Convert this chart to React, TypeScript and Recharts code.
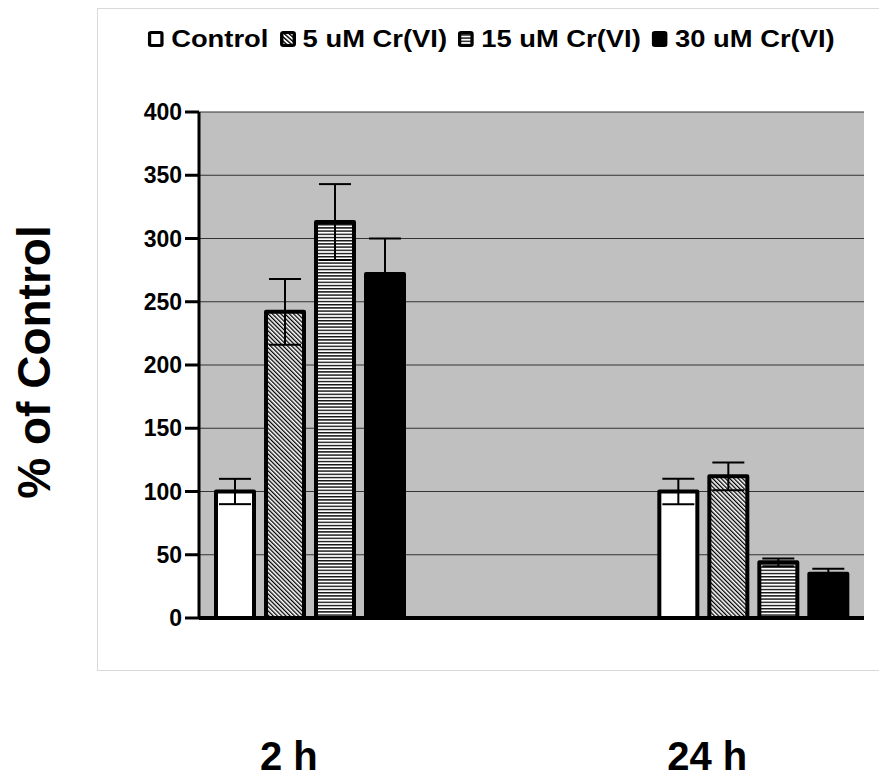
import React from 'react';
import { BarChart, Bar, XAxis, YAxis, CartesianGrid, ErrorBar, Legend } from 'recharts';

const categories = ['2 h', '', '24 h'];
const control = [100, null, 100];
const controlErr = [10, null, 10];
const cr5 = [242, null, 112];
const cr5Err = [26, null, 11];
const cr15 = [313, null, 44];
const cr15Err = [30, null, 3];
const cr30 = [272, null, 35];
const cr30Err = [28, null, 4];
const yTicks = [0, 50, 100, 150, 200, 250, 300, 350, 400];
const labelShift = [-21, 0, -46];

const series = [
  { key: 'control', err: 'controlErr', name: 'Control', fill: '#ffffff' },
  { key: 'cr5', err: 'cr5Err', name: '5 uM Cr(VI)', fill: 'url(#diagHatch)' },
  { key: 'cr15', err: 'cr15Err', name: '15 uM Cr(VI)', fill: 'url(#horizHatch)' },
  { key: 'cr30', err: 'cr30Err', name: '30 uM Cr(VI)', fill: '#000000' },
];

const data = categories.map((cat, i) => ({
  cat,
  control: control[i],
  controlErr: controlErr[i],
  cr5: cr5[i],
  cr5Err: cr5Err[i],
  cr15: cr15[i],
  cr15Err: cr15Err[i],
  cr30: cr30[i],
  cr30Err: cr30Err[i],
}));

const FONT = '"Liberation Sans", Arial, Helvetica, sans-serif';

const LegendContent = () => (
  <div
    style={{
      display: 'flex',
      justifyContent: 'center',
      alignItems: 'center',
      transform: 'scaleX(1.14)',
      transformOrigin: '50% 50%',
      fontFamily: FONT,
      fontWeight: 'bold',
      fontSize: 24,
      lineHeight: '26px',
      whiteSpace: 'nowrap',
      color: '#000',
    }}
  >
    {series.map((s, i) => (
      <div key={s.key} style={{ display: 'flex', alignItems: 'center', marginRight: i < series.length - 1 ? 10 : 0 }}>
        <svg width={14} height={16} style={{ display: 'block' }}>
          <rect x={1.5} y={1.5} width={11} height={13} rx={1.5} fill={s.fill} stroke="#000" strokeWidth={3} />
        </svg>
        <span style={{ marginLeft: 6 }}>{s.name}</span>
      </div>
    ))}
  </div>
);

const XTick = ({ x, y, payload, index }: any) => (
  <text
    x={x + (labelShift[index] || 0)}
    y={y + 152}
    textAnchor="middle"
    fontSize={40}
    fontWeight="bold"
    fontFamily={FONT}
    fill="#000"
  >
    {payload.value}
  </text>
);

const YLabel = (props: any) => {
  const vb = props.viewBox;
  const cx = vb.x + 50;
  const cy = vb.y + vb.height / 2 - 3;
  return (
    <text
      x={cx}
      y={cy}
      transform={`rotate(-90, ${cx}, ${cy})`}
      textAnchor="middle"
      fontSize={46}
      fontWeight="bold"
      fontFamily={FONT}
      fill="#000"
    >
      % of Control
    </text>
  );
};

export default function App() {
  return (
    <div
      style={{
        position: 'absolute',
        left: 0,
        top: 0,
        width: 879,
        height: 779,
        overflow: 'hidden',
        background: '#fff',
      }}
    >
      <div
        style={{
          position: 'absolute',
          left: 97,
          top: 8,
          width: 800,
          height: 661,
          border: '1px solid #d9d9d9',
        }}
      />
      <div style={{ position: 'absolute', left: 0, top: 0 }}>
        <BarChart
          width={879}
          height={779}
          data={data}
          margin={{ top: 112, right: 15, bottom: 0, left: 0 }}
          barSize={38}
          barGap={12}
        >
          <defs>
            <pattern id="diagHatch" patternUnits="userSpaceOnUse" width={3} height={3} patternTransform="rotate(-45)">
              <rect x={0} y={0} width={3} height={3} fill="#fff" />
              <rect x={0} y={0} width={1.3} height={3} fill="#000" />
            </pattern>
            <pattern id="horizHatch" patternUnits="userSpaceOnUse" width={4} height={3.2}>
              <rect x={0} y={0} width={4} height={3.2} fill="#fff" />
              <rect x={0} y={0} width={4} height={1.4} fill="#111" />
            </pattern>
          </defs>
          <CartesianGrid vertical={false} fill="#c0c0c0" stroke="#333" strokeWidth={1} />
          <XAxis
            dataKey="cat"
            height={161}
            tickLine={false}
            tickSize={0}
            tickMargin={0}
            axisLine={{ stroke: '#000', strokeWidth: 4 }}
            tick={<XTick />}
            interval={0}
          />
          <YAxis
            width={199}
            domain={[0, 400]}
            ticks={yTicks}
            interval={0}
            axisLine={{ stroke: '#000', strokeWidth: 3 }}
            tickLine={{ stroke: '#000', strokeWidth: 3 }}
            tickSize={14}
            tickMargin={3}
            tick={{ fontSize: 23, fontWeight: 'bold', fill: '#000', fontFamily: FONT }}
            label={(p: any) => <YLabel {...p} />}
          />
          <Legend
            verticalAlign="middle"
            align="center"
            layout="horizontal"
            content={<LegendContent />}
            wrapperStyle={{ left: 104, top: 26, width: 775, height: 26 }}
          />
          {series.map((s) => (
            <Bar
              key={s.key}
              dataKey={s.key}
              name={s.name}
              fill={s.fill}
              stroke="#000"
              strokeWidth={4}
              strokeLinejoin="round"
              isAnimationActive={false}
            >
              <ErrorBar dataKey={s.err} width={16} stroke="#000" strokeWidth={2} direction="y" />
            </Bar>
          ))}
        </BarChart>
      </div>
    </div>
  );
}
